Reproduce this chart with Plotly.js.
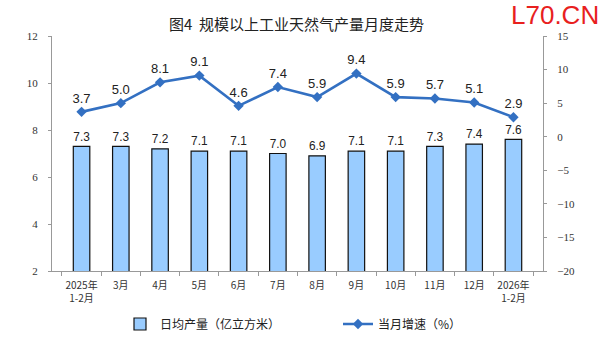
<!DOCTYPE html>
<html><head><meta charset="utf-8">
<script src="https://cdn.plot.ly/plotly-3.0.1.min.js"></script>
<style>html,body{margin:0;padding:0;background:#fff}#c{width:604px;height:354px}</style>
</head><body><div id="c"></div>
<script>
const categories = ["2025年<br>1-2月","3月","4月","5月","6月","7月","8月","9月","10月","11月","12月","2026年<br>1-2月"];
const dailyOutput = [7.3,7.3,7.2,7.1,7.1,7.0,6.9,7.1,7.1,7.3,7.4,7.6];
const growthRate = [3.7,5.0,8.1,9.1,4.6,7.4,5.9,9.4,5.9,5.7,5.1,2.9];
const leftTicks = [2,4,6,8,10,12];
const rightTicks = [-20,-15,-10,-5,0,5,10,15];

const serif = "Liberation Serif, Times New Roman, serif";
const cjk = "Noto Sans CJK SC, sans-serif";
const sans = "Liberation Sans, Arial, sans-serif";
const L = 52, R = 543, T = 36, B = 271;
const px = x => (x - L) / (R - L);
const py = y => (B - y) / (B - T);

const bars = {
  type:"bar", x:categories, y:dailyOutput, name:"日均产量（亿立方米）", legend:"legend",
  marker:{color:"#99CCFF", line:{color:"#111", width:1.2}},
  width:0.42,
  text:dailyOutput.map(v=>v.toFixed(1)), textposition:"outside",
  textfont:{family:sans, size:13, color:"#222"},
  cliponaxis:false, hoverinfo:"skip"
};
const line = {
  type:"scatter", mode:"lines+markers+text", x:categories, y:growthRate, yaxis:"y2",
  name:"当月增速（%）", legend:"legend2",
  line:{color:"#3370C2", width:2.6},
  marker:{symbol:"diamond", size:8, color:"#3370C2"},
  text:growthRate.map(v=>v.toFixed(1)), textposition:"top center",
  textfont:{family:sans, size:13, color:"#222"},
  cliponaxis:false, hoverinfo:"skip"
};
const legFont = {family:cjk, size:12, color:"#222"};
const layout = {
  width:604, height:354,
  margin:{l:L, r:604-R, t:T, b:354-B},
  paper_bgcolor:"#fff", plot_bgcolor:"#fff",
  showlegend:true,
  legend:{x:px(120), xanchor:"left", y:py(324), yanchor:"middle", font:legFont, bgcolor:"rgba(0,0,0,0)"},
  legend2:{x:px(338), xanchor:"left", y:py(324), yanchor:"middle", font:legFont, bgcolor:"rgba(0,0,0,0)"},
  xaxis:{type:"category", showline:true, linecolor:"#999", linewidth:1,
    ticks:"outside", tickson:"boundaries", ticklen:4, tickcolor:"#999", tickangle:0,
    ticklabelstandoff:5,
    tickfont:{family:cjk, size:10, color:"#333"}, showgrid:false, zeroline:false},
  yaxis:{range:[2,12], tickvals:leftTicks, showline:true, linecolor:"#999", ticks:"outside",
    ticklen:3, tickcolor:"#999", showgrid:false, zeroline:false, ticklabelstandoff:8,
    tickfont:{family:serif, size:11, color:"#333"}},
  yaxis2:{range:[-20,15], tickvals:rightTicks, overlaying:"y", side:"right", showline:true,
    linecolor:"#999", ticks:"outside", ticklen:3, tickcolor:"#999", showgrid:false, zeroline:false,
    ticklabelstandoff:8,
    tickfont:{family:serif, size:11, color:"#333"}},
  annotations:[
    {text:"图4  规模以上工业天然气产量月度走势", xref:"paper", yref:"paper", x:px(296), y:py(23),
      xanchor:"center", yanchor:"middle", showarrow:false,
      font:{family:cjk, size:15, color:"#222"}},
    {text:"L70.CN", xref:"paper", yref:"paper", x:px(555), y:py(15),
      xanchor:"center", yanchor:"middle", showarrow:false,
      font:{family:sans, size:26, color:"#E8201E"}}
  ]
};
Plotly.newPlot("c",[bars,line],layout,{staticPlot:true, displayModeBar:false});
</script></body></html>
